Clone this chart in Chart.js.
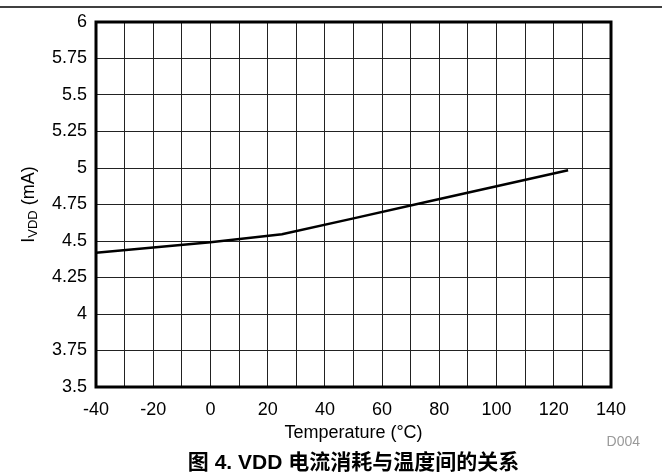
<!DOCTYPE html>
<html>
<head>
<meta charset="utf-8">
<script src="https://cdn.jsdelivr.net/npm/chart.js@4/dist/chart.umd.min.js"></script>
<style>
  html, body { margin: 0; padding: 0; background: #fff; }
  #wrap { width: 662px; height: 473px; position: relative; }
</style>
</head>
<body>
<div id="wrap"><canvas id="c" width="662" height="473"></canvas></div>
<script>
// Data
const temperatures = [-40, -20, 0, 25, 50, 75, 100, 125];      // °C
const iVddValues   = [4.42, 4.456, 4.492, 4.546, 4.655, 4.765, 4.875, 4.985]; // mA
const xTickLabels  = [-40, -20, 0, 20, 40, 60, 80, 100, 120, 140];
const yTickLabels  = ["3.5", "3.75", "4", "4.25", "4.5", "4.75", "5", "5.25", "5.5", "5.75", "6"];
const xTitle = "Temperature (°C)";
const yTitleMain = "I";
const yTitleSub = "VDD";
const yTitleRest = " (mA)";
const caption = "图 4. VDD 电流消耗与温度间的关系";
const codeLabel = "D004";

const FONT = '"Liberation Sans", Arial, Helvetica, sans-serif';

const decorPlugin = {
  id: 'decor',
  beforeDraw(chart) {
    const ctx = chart.ctx;
    ctx.save();
    ctx.fillStyle = '#fff';
    ctx.fillRect(0, 0, chart.width, chart.height);
    ctx.restore();
  },
  afterDraw(chart) {
    const ctx = chart.ctx;
    const a = chart.chartArea;
    ctx.save();
    // top rule
    ctx.strokeStyle = '#000';
    ctx.lineWidth = 1.5;
    ctx.beginPath();
    ctx.moveTo(0, 7);
    ctx.lineTo(chart.width, 7);
    ctx.stroke();
    // frame
    ctx.lineWidth = 3;
    ctx.strokeRect(a.left, a.top, a.right - a.left, a.bottom - a.top);
    // x title
    const cx = (a.left + a.right) / 2;
    ctx.fillStyle = '#000';
    ctx.textAlign = 'center';
    ctx.textBaseline = 'middle';
    ctx.font = '18px ' + FONT;
    ctx.fillText(xTitle, cx, 433);
    // code label
    ctx.fillStyle = '#999';
    ctx.textAlign = 'right';
    ctx.font = '14px ' + FONT;
    ctx.fillText(codeLabel, 640, 442);
    // caption
    ctx.fillStyle = '#000';
    ctx.textAlign = 'center';
    ctx.font = 'bold 21px "Liberation Sans", "Noto Sans CJK SC", sans-serif';
    ctx.fillText(caption, cx, 463);
    // y title (rotated, with subscript)
    const cy = (a.top + a.bottom) / 2;
    ctx.translate(27, cy);
    ctx.rotate(-Math.PI / 2);
    ctx.textAlign = 'left';
    ctx.textBaseline = 'alphabetic';
    const fMain = '18px ' + FONT, fSub = '13px ' + FONT;
    ctx.font = fMain; const w1 = ctx.measureText(yTitleMain).width;
    ctx.font = fSub;  const w2 = ctx.measureText(yTitleSub).width;
    ctx.font = fMain; const w3 = ctx.measureText(yTitleRest).width;
    const total = w1 + w2 + w3;
    let x0 = -total / 2;
    const base = 7;
    ctx.font = fMain; ctx.fillText(yTitleMain, x0, base); x0 += w1;
    ctx.font = fSub;  ctx.fillText(yTitleSub, x0, base + 3); x0 += w2;
    ctx.font = fMain; ctx.fillText(yTitleRest, x0, base);
    ctx.restore();
  }
};

new Chart(document.getElementById('c'), {
  type: 'line',
  data: {
    datasets: [{
      data: temperatures.map((t, i) => ({ x: t, y: iVddValues[i] })),
      borderColor: '#000',
      borderWidth: 2.5,
      pointRadius: 0,
      tension: 0,
      fill: false
    }]
  },
  options: {
    responsive: false,
    animation: false,
    layout: { padding: { left: 0, top: 22, right: 51, bottom: 0 } },
    plugins: { legend: { display: false }, tooltip: { enabled: false } },
    scales: {
      x: {
        type: 'linear',
        min: -40, max: 140,
        afterFit(s) { s.height = 86; },
        grid: { color: '#222', lineWidth: 1, drawTicks: false },
        border: { display: false },
        ticks: {
          stepSize: 10, autoSkip: false, maxRotation: 0, padding: 12,
          color: '#000', font: { family: FONT, size: 18 },
          callback: v => xTickLabels.includes(v) ? String(v) : ''
        }
      },
      y: {
        type: 'linear',
        min: 3.5, max: 6,
        afterFit(s) { s.width = 96; },
        grid: { color: '#222', lineWidth: 1, drawTicks: false },
        border: { display: false },
        ticks: {
          stepSize: 0.25, padding: 9,
          color: '#000', font: { family: FONT, size: 18 },
          callback: v => { const s = String(Math.round(v * 100) / 100); return yTickLabels.includes(s) ? s : ''; }
        }
      }
    }
  },
  plugins: [decorPlugin]
});
</script>
</body>
</html>
